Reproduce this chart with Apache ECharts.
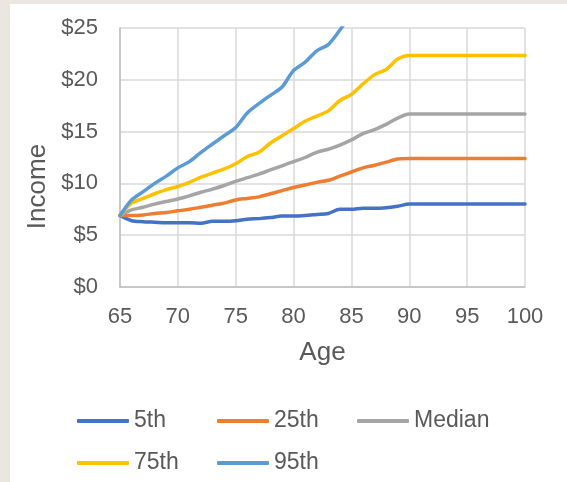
<!DOCTYPE html>
<html>
<head>
<meta charset="utf-8">
<script src="https://cdn.jsdelivr.net/npm/echarts@6/dist/echarts.min.js"></script>
<style>
  html, body { margin: 0; padding: 0; background: #ebe7e0; }
  #chart { position: absolute; left: 10px; top: 4px; width: 557px; height: 478px; background: #fff; }
</style>
</head>
<body>
<div id="chart"></div>
<script>
// ages 65..100, one point per year
var ages = [];
for (var a = 65; a <= 100; a++) ages.push(a);

var p5 = [6.9, 6.4, 6.3, 6.25, 6.2, 6.2, 6.2, 6.15, 6.35, 6.35, 6.4, 6.55, 6.6, 6.7, 6.85, 6.85, 6.9, 7.0, 7.1, 7.5,
          7.5, 7.6, 7.6, 7.65, 7.8, 8.0, 8.0, 8.0, 8.0, 8.0, 8.0, 8.0, 8.0, 8.0, 8.0, 8.0];
var p25 = [6.9, 6.9, 6.95, 7.1, 7.2, 7.35, 7.5, 7.7, 7.9, 8.1, 8.4, 8.55, 8.7, 9.0, 9.3, 9.6, 9.85, 10.1, 10.3, 10.7,
           11.1, 11.5, 11.75, 12.05, 12.35, 12.4, 12.4, 12.4, 12.4, 12.4, 12.4, 12.4, 12.4, 12.4, 12.4, 12.4];
var median = [6.9, 7.45, 7.7, 8.0, 8.25, 8.5, 8.8, 9.15, 9.45, 9.8, 10.2, 10.55, 10.9, 11.3, 11.7, 12.1, 12.5, 13.0, 13.3, 13.7,
              14.2, 14.8, 15.2, 15.7, 16.3, 16.7, 16.7, 16.7, 16.7, 16.7, 16.7, 16.7, 16.7, 16.7, 16.7, 16.7];
var p75 = [6.9, 8.1, 8.55, 9.0, 9.4, 9.7, 10.1, 10.6, 11.0, 11.4, 11.9, 12.6, 13.0, 13.9, 14.6, 15.3, 16.0, 16.5, 17.0, 18.0,
           18.6, 19.6, 20.5, 21.0, 22.0, 22.35, 22.35, 22.35, 22.35, 22.35, 22.35, 22.35, 22.35, 22.35, 22.35, 22.35];
// 95th leaves the chart above $25 after age 84
var p95 = [6.9, 8.4, 9.2, 10.0, 10.7, 11.5, 12.1, 13.0, 13.8, 14.6, 15.4, 16.8, 17.7, 18.5, 19.3, 20.9, 21.7, 22.8, 23.4, 24.8,
           26.4, 27.6, null, null, null, null, null, null, null, null, null, null, null, null, null, null];

var seriesNames = ['5th', '25th', 'Median', '75th', '95th'];
var seriesData = [p5, p25, median, p75, p95];
var colors = ['#4472c4', '#ed7d31', '#a5a5a5', '#ffc000', '#5b9bd5'];

var font = '"Liberation Sans", Arial, sans-serif';
var textColor = '#595959';

function pairs(vals) {
    return ages.map(function(age, i){ return [age, vals[i]]; });
}

var series = seriesNames.map(function(name, i){
    return {
        name: name,
        type: 'line',
        data: pairs(seriesData[i]),
        showSymbol: false,
        smooth: 0.3,
        connectNulls: false,
        lineStyle: { width: 3.5, color: colors[i], cap: 'round', join: 'round' },
        itemStyle: { color: colors[i] }
    };
});

var option = {
    animation: false,
    backgroundColor: '#fff',
    grid: { left: 110, top: 24, right: 42, bottom: 195 },
    xAxis: {
        type: 'value',
        min: 65, max: 100, interval: 5,
        name: 'Age',
        nameLocation: 'middle',
        nameGap: 53,
        nameTextStyle: { fontFamily: font, fontSize: 26, color: textColor },
        axisLine: { show: true, lineStyle: { color: '#bfbfbf', width: 1.5 } },
        axisTick: { show: false },
        axisLabel: { margin: 19, fontFamily: font, fontSize: 22, color: textColor },
        splitLine: { show: true, lineStyle: { color: '#d9d9d9', width: 1.5 } }
    },
    yAxis: {
        type: 'value',
        min: 0, max: 25, interval: 5,
        name: 'Income',
        nameLocation: 'middle',
        nameGap: 68,
        nameTextStyle: { fontFamily: font, fontSize: 26, color: textColor, padding: [0, 58, 0, 0] },
        axisLine: { show: true, lineStyle: { color: '#bfbfbf', width: 1.5 } },
        axisTick: { show: false },
        axisLabel: { margin: 22, fontFamily: font, fontSize: 22, color: textColor, formatter: '${value}' },
        splitLine: { show: true, lineStyle: { color: '#d9d9d9', width: 1.5 } }
    },
    legend: {
        left: 62,
        top: 398,
        width: 440,
        itemGap: 14,
        itemWidth: 52,
        itemHeight: 4,
        icon: 'roundRect',
        data: seriesNames,
        textStyle: { fontFamily: font, fontSize: 23, color: textColor, width: 69, lineHeight: 28 }
    },
    series: series
};

var myChart = echarts.init(document.getElementById('chart'));
myChart.setOption(option);
</script>
</body>
</html>
